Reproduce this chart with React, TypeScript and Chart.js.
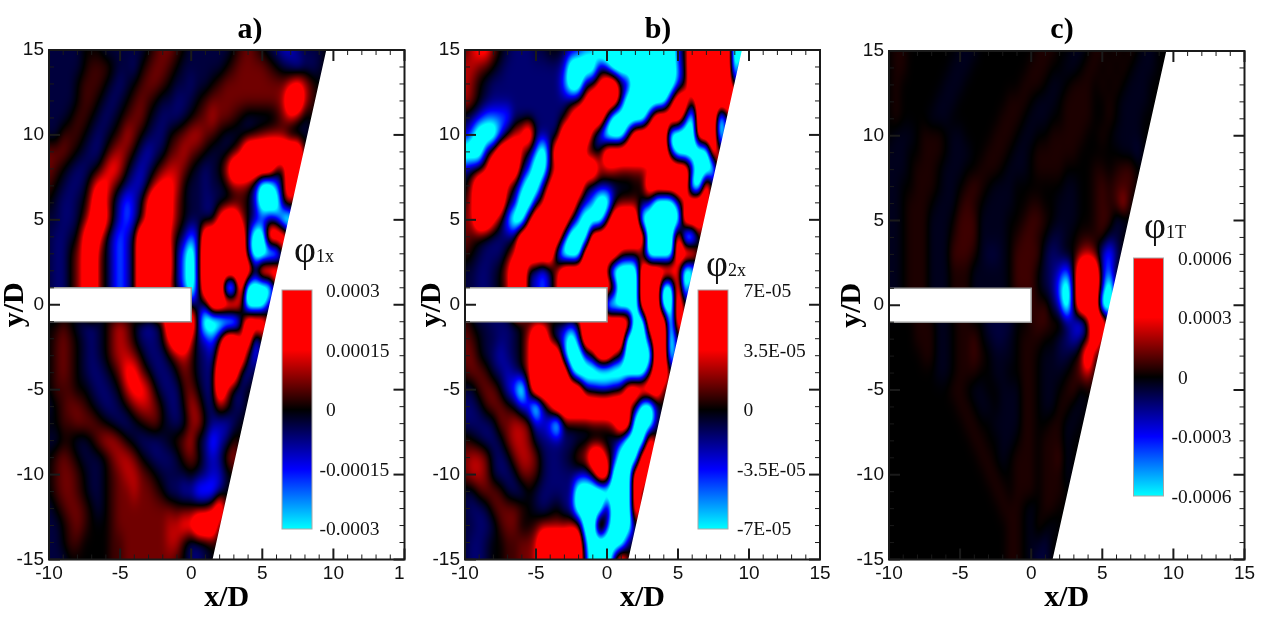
import React, { useEffect, useRef } from "react";
import { Chart, registerables } from "chart.js";

Chart.register(...registerables);

// Field. Columns: x = -10, -9.5 ... 10. Rows: y = 15, 14 ... -15.
// Code per cell: 0 zero, p 1 2 3 4 5 rising positive, n a b c d e falling negative. Spaces are ignored.
const xNodes = [-10,-9.5,-9,-8.5,-8,-7.5,-7,-6.5,-6,-5.5,-5,-4.5,-4,-3.5,-3,-2.5,-2,-1.5,-1,-0.5,0,0.5,1,1.5,2,2.5,3,3.5,4,4.5,5,5.5,6,6.5,7,7.5,8,8.5,9,9.5,10];
const yNodes = [15,14,13,12,11,10,9,8,7,6,5,4,3,2,1,0,-1,-2,-3,-4,-5,-6,-7,-8,-9,-10,-11,-12,-13,-14,-15];
const codeValues: Record<string, number> = { "0":0, p:0.055, "1":0.12, "2":0.22, "3":0.38, "4":0.65, "5":1.35, n:-0.055, a:-0.12, b:-0.22, c:-0.38, d:-0.7, e:-1.6 };

const fieldA = [
  "aaaaa 000 aaaaaa 0 1221 0 aaaaaa 0 121 0 abccba aa 0",
  "aaaaa 0 111 0 aab 0 1221 0 aaaaaa 0 122221 0 abcbba 0",
  "aaaa0 111 0aba0 1221 0 aabaa 0 122 2222222 343 1 0",
  "aaaa0110 aba0 121 0 aabba 0 1222 2222222 3553 1 0",
  "aaa0110 aba0 122 0 abbba 0 123221 0 aaaa 0 231 a 0",
  "aa111 0 aba 0 132 0abb0 123321 0aaaa0 1221 bba 0",
  "22210 abb 0 232 0 bcba 12321 0 aaa 0 355555555 0",
  "210 abba 0 343 0bcb0 2332 0aba0 35555551 0 55 0",
  "10abba 2442 0bcc0 3443 0aabaa0 221 ceed 15 0",
  "0abba0 353 0cdc0 4554 2 0 aabbaa 0 1 0 c eee 23 0",
  "a abba 1 454 0 cdc 0 4554 2 0 aabb 4553 0 bcbc ee 0",
  "abba0 454 0cdc0 5555 3 0 bdc 555555 b ee 555 0",
  "abb0 2452 0cdc0 5555 4 b de a 555555 b eeee 0",
  "abb0 2452 0cdc0 5555 4 b de a 5555555 1 555 0",
  "abb0 2452 0cdc0 5555 3 b de b 555 ee 5 eeee 0",
  "abb0 2452 0cdc0 5555 43 3 bab 55553 eee 0",
  "00 10 abba 0 232 0 bcb 0 5555 b eee ee c 555 0",
  "01210 aba 0 232 0 bbb 0 4553 bcd 1 55 3 5 d 0",
  "01210 aba 0 2332 0 bbb 0 231 a bc 4555 a d 0",
  "0121 0 abba 0 2442 0 bbb 0 21 a bb 555 b c 0",
  "01110 0 abba 0 3443 0 bbb 12 0 bb 53 bb 0",
  "a0 1221 0 abba 0 2332 0 bb 0 32 a b 21 a b 0",
  "00 112221 0 abba 0 12 0 aba 23 0 bccb 0",
  "aa 00 aa 0 2332 0 abbba 0 123 a bdc b 1 0",
  "0121 0 aaa 0 2332 0 abbba 1 21 bcb 23 0",
  "0122 1 0 aa 0 123321 0 aaaa 0 a bcc a 0",
  "0122 1 0 aa 0 1223221 0 bbccdddc 0",
  "a 01 22 1 0 a 0 1222222221 1111 35 0",
  "aa 0 12 1 0 0 0 1 2222222 334 4555 0",
  "aa0 11 0000 11 222222 33 0 bb a 0",
  "aaa0 00000 11 222222 21 0 bb a 0",
];

const fieldB = [
  "1 3442 0 abbbaa 00 a bc dd eeeeeeeeeee c 0 555555 ee 0",
  "3321 0 abbbbbbbb c eeee b d eeeeeeeee d 0 555555 e 0",
  "32 0 abbbbbbbbbb dee a 0 455 0 a eeeeee d a 555555 c 0",
  "320 abbbbbbbb bbb a 0 45555 a eeeeee 0 55 a 555555 0",
  "ab c dddd bbbbbbb a 45555 a eeeee a 5555 a e 555 e 0",
  "b deeed 0 345 abbb 5555 0 deee a 55555 eeee 555 e 0",
  "eee b 35553 a de a 5555 0a0 555555555 c eeeee 5 0",
  "b a 0 35555 a cee 0 355555 333222222 5555 a eee 5 0",
  "a 355553 a dee a 45555 0bbbbaa 00 555555 ee 5 0",
  "1 35555 0 b ee a 35555 0 cdee a 111 0 c eee c 3 555 e 0",
  "2 3554 0 dee 355555 0 deee 0 5555 eeeeee 555 0",
  "21 0 abbb a 555555 ceee 55555555 eeee 5 ee 0",
  "10 abbb 0 355555 deee 55555 2 11 0 eeee 555 0",
  "aabba 0 355 bcdb 3555555 0 eeee 55555 3 ee 0",
  "aabba 0 255 bcdb 3555555 53 eee 555 ee 5 e 0",
  "aabba0255bcdb3555555 eeeee 555 ee 5 0",
  "10 aabbba 0 1221 0ab 0 5555555 ee 555 e 5 0",
  "210 aabba 0 355 0 cdec 555555 eee a 55 e 0",
  "220 abcba 0 35555 deec 0 553 0 eeee 55 e 0",
  "1221 abcb 0 355555 deee eee eeee 0 55 0",
  "aa 122 0 cde 0 5555555 a bcca 0 55555 0",
  "bba 1221 0 cdec 3555555555 53 0 ee c 0",
  "bbbba 22332 ccde 0000111 355 eee 0",
  "10 abba 2332 abbbbbaaaaab c eee 5 0",
  "2332 aba 2332 abba 0 23552 a eee 55 0",
  "2332 abba 221 abbbb bc 0 55 eee 55 0",
  "aa 1221 abb 0 abbbbb eeeee eee 5 0",
  "abba 12221 0 aba 0 bc eeee 3 eee 5 0",
  "aabba 122 0 0 1222233 ee 5 c eee 0",
  "abba 00 1122 3555555 deeeee 0",
  "abba 00 1122 3555555 ceee a5 0",
];

const fieldC = [
  "0pp 0000000 nnn 000000 00 ppp 00 nn 0 pp 0p0p0 nn 0",
  "0pp 000000 nnn 00000 0 00 ppp 00 nn 0 pp 0p0p0 nnn 0",
  "0p 000000 nnn 00000 000 ppp 0 nn 0 ppp 0p0p0 nnn 0",
  "0p 00000 nnn 000000 0 ppp 0 nnn 0 pppp 00p0 nnnn 0",
  "0p 0000 nnn 000000 0 ppp 0 nnn 00 pppp 00 p0 nnn 0",
  "0nnn0 ppp 0 nn 00 0 0 ppp 0 nn 00 ppppp 00 p0 nnnn 0",
  "nnn00 ppp 0 nnn 00 ppp 0 nn 0 pppppp 0000 00 nn a 0",
  "nnn0 ppp 0 nnn 00 ppp 0 nnn 0 pppp 0000 p p0 p1 1 0",
  "nn0 0 ppp 0nn 0 p1p 0 nnn 000 0000 nn 00 p1p 111 0",
  "nn0 ppp 0 nnn p1p 0 nnnn 00 pp 00 nnn 00 p1 p1 3 0",
  "nn0 ppp nnn 0 111 nnnn 00 p11p 0 nnn 00 p1 1 a a 0",
  "nn0 ppp nnn p 111 nnnn 0 p11p 0 aan 0 pp p1 a a 0",
  "nn0 ppp nnn 111p naan 0 1111 aba 0 0 23 1 c d b 0",
  "nn0 ppp nnn ppp n nnnn 0 111 0 a bcd 0 555 c d 0",
  "nn0 ppp nnn ppp nnnnn 0 111 0 a b d e 0 555 c e 0",
  "nn0 ppp nnn ppp nnnnn 000 1p 1 a c e 0 555 e e 0",
  "0000 ppp nn 0 pp 00 aaaa 00 p11p 1 a cd 0 55 0",
  "0000 ppp nn 0 pp1 0 naan 0 ppp 00 a b c b 0 5 0",
  "00000 pp nn 0 pp1 p 0 nnn 0 pp 0 nnaa 0 1 5 0",
  "00000 00 nn 0 ppp 00 nn 00 pp 0 nnn 0 p 2 3 0",
  "00000000 0 pp 0 nn 00 nnn p p 0 nn 0 p 1 n 0",
  "00000000 0 0pp 0 nn 0 nnn pp 0 nn pp nn 0",
  "0000000000 0pp 00 n nnn pp 00 pp n n 0",
  "00000000000 0pp 00 nn 0 p p 0 ppp n 0",
  "00000000000 00p p 0 n 0 pp p 0 pp 1 n 0",
  "000000000000 00pp 0 0 pp p 0 p pp n 0",
  "00000000000000 0pp 0 pp p 0 pp p 0",
  "0000000000000000 pp p 0 n 0 p p 0",
  "00000000000000000 pp 0 n p 0 n 0",
  "00000000000000000 pp 0 nn a 0",
  "00000000000000000 pp 0 n aa 0",
];

const wedgeOutline = [{ x: 9.5, y: 15 }, { x: 15.3, y: 15 }, { x: 15.3, y: -15 }, { x: 1.5, y: -15 }];
const bodyOutline = [{ x: -10, y: 1 }, { x: 0, y: 1 }, { x: 0, y: -1 }, { x: -10, y: -1 }];

const titleA = "a)"; const titleB = "b)"; const titleC = "c)";
const labelsA = ["0.0003", "0.00015", "0", "-0.00015", "-0.0003"];
const labelsB = ["7E-05", "3.5E-05", "0", "-3.5E-05", "-7E-05"];
const labelsC = ["0.0006", "0.0003", "0", "-0.0003", "-0.0006"];

function parseField(rows: string[]) {
  return rows.map((r) => {
    const s = r.replace(/\s/g, "");
    const out: number[] = [];
    for (let i = 0; i < xNodes.length; i++) out.push(codeValues[s[Math.min(i, s.length - 1)]] ?? 0);
    return out;
  });
}

function colour(v: number): [number, number, number] {
  if (v >= 0) return [255 * Math.min(v / 0.5, 1), 0, 0];
  const a = Math.min(-v, 1);
  if (a < 0.5) return [0, 0, 255 * (a / 0.5)];
  return [0, 255 * ((a - 0.5) / 0.5), 255];
}

// Cubic B-spline weights: a soft contour surface over the cells that were read.
function weights(t: number) {
  const u = 1 - t;
  return [u * u * u / 6, (3 * t * t * t - 6 * t * t + 4) / 6, (-3 * t * t * t + 3 * t * t + 3 * t + 1) / 6, t * t * t / 6];
}

function sample(g: number[][], cx: number, cy: number) {
  const rows = g.length, cols = g[0].length;
  const ix = Math.floor(cx), iy = Math.floor(cy);
  const wx = weights(cx - ix), wy = weights(cy - iy);
  let sum = 0;
  for (let j = -1; j <= 2; j++) {
    const r = g[Math.max(0, Math.min(rows - 1, iy + j))];
    let line = 0;
    for (let k = -1; k <= 2; k++) line += wx[k + 1] * r[Math.max(0, Math.min(cols - 1, ix + k))];
    sum += wy[j + 1] * line;
  }
  return sum;
}

const fieldPlugin = {
  id: "field",
  beforeDatasetsDraw(chart: any, _a: any, opts: any) {
    const { left, right, top, bottom } = chart.chartArea;
    const xs = chart.scales.x, ys = chart.scales.y;
    const w = Math.round(right - left), h = Math.round(bottom - top);
    const off = document.createElement("canvas");
    off.width = w; off.height = h;
    const octx = off.getContext("2d")!;
    const img = octx.createImageData(w, h);
    const g = opts.grid as number[][];
    const dx = xNodes[1] - xNodes[0], dy = yNodes[1] - yNodes[0];
    for (let py = 0; py < h; py++) {
      const yv = ys.getValueForPixel(top + py + 0.5);
      const cy = (yv - yNodes[0]) / dy;
      for (let px = 0; px < w; px++) {
        const xv = xs.getValueForPixel(left + px + 0.5);
        const c = colour(sample(g, (xv - xNodes[0]) / dx, cy));
        const k = (py * w + px) * 4;
        img.data[k] = c[0]; img.data[k + 1] = c[1]; img.data[k + 2] = c[2]; img.data[k + 3] = 255;
      }
    }
    octx.putImageData(img, 0, 0);
    chart.ctx.drawImage(off, left, top, right - left, bottom - top);
  },
};

const framePlugin = {
  id: "frame",
  afterDatasetsDraw(chart: any, _a: any, opts: any) {
    const { ctx, chartArea: ca } = chart;
    const xs = chart.scales.x, ys = chart.scales.y;
    ctx.save();
    ctx.strokeStyle = "#1a1a1a";
    const seg = (x1: number, y1: number, x2: number, y2: number, lw: number) => {
      ctx.lineWidth = lw; ctx.beginPath(); ctx.moveTo(x1, y1); ctx.lineTo(x2, y2); ctx.stroke();
    };
    for (let v = -10; v <= 15; v++) {
      const major = v % 5 === 0;
      const len = major ? 11 : 5, lw = major ? 2 : 1;
      const px = xs.getPixelForValue(v);
      seg(px, ca.bottom, px, ca.bottom - len, lw);
      seg(px, ca.top, px, ca.top + len, lw);
    }
    for (let v = -15; v <= 15; v++) {
      const major = v % 5 === 0;
      const len = major ? 11 : 5, lw = major ? 2 : 1;
      const py = ys.getPixelForValue(v);
      seg(ca.left, py, ca.left + len, py, lw);
      seg(ca.right, py, ca.right - len, py, lw);
    }
    ctx.lineWidth = 2;
    ctx.strokeRect(ca.left, ca.top, ca.right - ca.left, ca.bottom - ca.top);

    // colour bar
    const o = opts;
    const x0 = o.barLeft - o.canvasLeft;
    const grad = ctx.createLinearGradient(0, o.barTop, 0, o.barBottom);
    grad.addColorStop(0, "#ff0000");
    grad.addColorStop(0.25, "#ff0000");
    grad.addColorStop(0.5, "#000000");
    grad.addColorStop(0.75, "#0000ff");
    grad.addColorStop(1, "#00ffff");
    ctx.fillStyle = grad;
    ctx.fillRect(x0, o.barTop, 30, o.barBottom - o.barTop);
    ctx.strokeStyle = "#a8a8a8"; ctx.lineWidth = 1;
    ctx.strokeRect(x0, o.barTop, 30, o.barBottom - o.barTop);

    ctx.fillStyle = "#111";
    ctx.font = '19.5px "Liberation Serif"';
    ctx.textBaseline = "middle"; ctx.textAlign = "left";
    o.labels.forEach((t: string, i: number) => {
      const neg = t.startsWith("-");
      const lx = o.labelLeft - o.canvasLeft - (neg ? 6.5 : 0);
      ctx.fillText(t, lx, o.labelY[i]);
    });
    ctx.textBaseline = "alphabetic";
    ctx.font = '38px "Liberation Serif"';
    ctx.fillText("φ", o.symX - o.canvasLeft, o.symY);
    const wPhi = ctx.measureText("φ").width;
    ctx.font = '18px "Liberation Serif"';
    ctx.fillText(o.sub, o.symX - o.canvasLeft + wPhi, o.symY);
    ctx.restore();
  },
};

type Panel = {
  title: string; grid: string[]; left: number; width: number; plotLeft: number; plotRight: number; plotTop: number;
  yPad: number; lastLabel: string; labels: string[]; barLeft: number; barTop: number; barBottom: number;
  labelLeft: number; labelY: number[]; symX: number; symY: number; sub: string;
};

const panels: Panel[] = [
  { title: titleA, grid: fieldA, left: 0, width: 500, plotLeft: 49, plotRight: 404.5, plotTop: 50, yPad: 0, lastLabel: "1\u2007", labels: labelsA,
    barLeft: 282, barTop: 290, barBottom: 529, labelLeft: 326, labelY: [292, 352, 411, 471, 530], symX: 294, symY: 262, sub: "1x" },
  { title: titleB, grid: fieldB, left: 410, width: 496, plotLeft: 465, plotRight: 820, plotTop: 50, yPad: 7.5, lastLabel: "15", labels: labelsB,
    barLeft: 698, barTop: 290, barBottom: 529, labelLeft: 743.5, labelY: [292, 352, 411, 471, 530], symX: 706, symY: 276, sub: "2x" },
  { title: titleC, grid: fieldC, left: 820, width: 484, plotLeft: 889, plotRight: 1244.5, plotTop: 51, yPad: 17.5, lastLabel: "15", labels: labelsC,
    barLeft: 1133.5, barTop: 258, barBottom: 496, labelLeft: 1178, labelY: [260, 319, 379, 438, 498], symX: 1144, symY: 238, sub: "1T" },
];

function ChartPanel({ p }: { p: Panel }) {
  const ref = useRef<HTMLCanvasElement>(null);
  useEffect(() => {
    const bold = '"Liberation Serif"';
    const chart = new Chart(ref.current!, {
      type: "scatter",
      data: {
        datasets: [
          { label: "wedge", data: wedgeOutline, showLine: true, fill: "shape", backgroundColor: "#ffffff", borderWidth: 0, pointRadius: 0 },
          { label: "body", data: bodyOutline, showLine: true, fill: "shape", backgroundColor: "#ffffff", borderColor: "#9a9a9a", borderWidth: 1.5, pointRadius: 0 },
        ],
      },
      plugins: [fieldPlugin, framePlugin],
      options: {
        animation: false,
        responsive: false,
        devicePixelRatio: 1,
        layout: { padding: 0 },
        plugins: {
          legend: { display: false },
          tooltip: { enabled: false },
          title: {
            display: true, text: p.title, color: "#000",
            font: { family: bold, size: 30, weight: "bold", lineHeight: 1.2 },
            padding: { top: 12, bottom: p.plotTop - 48 },
          },
          field: { grid: parseField(p.grid) },
          frame: { canvasLeft: p.left, labels: p.labels, barLeft: p.barLeft, barTop: p.barTop, barBottom: p.barBottom, labelLeft: p.labelLeft, labelY: p.labelY, symX: p.symX, symY: p.symY, sub: p.sub },
        } as any,
        scales: {
          x: {
            type: "linear", min: -10, max: 15,
            grid: { display: false, drawTicks: false }, border: { display: false },
            ticks: {
              stepSize: 5, maxRotation: 0, autoSkip: false, padding: 3, color: "#111",
              font: { family: '"Liberation Sans"', size: 19 },
              callback: (v: any) => (v === 15 ? p.lastLabel : String(v)),
            },
            title: { display: true, text: "x/D", color: "#000", font: { family: bold, size: 30, weight: "bold", lineHeight: 1 }, padding: { top: 0, bottom: 6 } },
            afterFit: (s: any) => { s.height = 59.5; },
          },
          y: {
            type: "linear", min: -15, max: 15,
            grid: { display: false, drawTicks: false }, border: { display: false },
            ticks: { stepSize: 5, autoSkip: false, padding: 5, color: "#111", font: { family: '"Liberation Sans"', size: 19 } },
            title: { display: true, text: "y/D", color: "#000", font: { family: bold, size: 30, weight: "bold", lineHeight: 1 }, padding: { top: p.yPad, bottom: 0 } },
            afterFit: (s: any) => { s.width = p.plotLeft - p.left; },
          },
          spacer: {
            type: "linear", position: "right", display: true,
            grid: { display: false, drawTicks: false }, border: { display: false },
            ticks: { display: false },
            afterFit: (s: any) => { s.width = p.left + p.width - p.plotRight; },
          },
        },
      } as any,
    });
    return () => chart.destroy();
  }, [p]);
  return <canvas ref={ref} width={p.width} height={619} style={{ position: "absolute", left: p.left, top: 0, width: p.width, height: 619 }} />;
}

export default function App() {
  return (
    <div style={{ position: "absolute", left: 0, top: 0, width: 1263, height: 619, overflow: "hidden", background: "#fff" }}>
      {panels.map((p) => <ChartPanel key={p.title} p={p} />)}
    </div>
  );
}
